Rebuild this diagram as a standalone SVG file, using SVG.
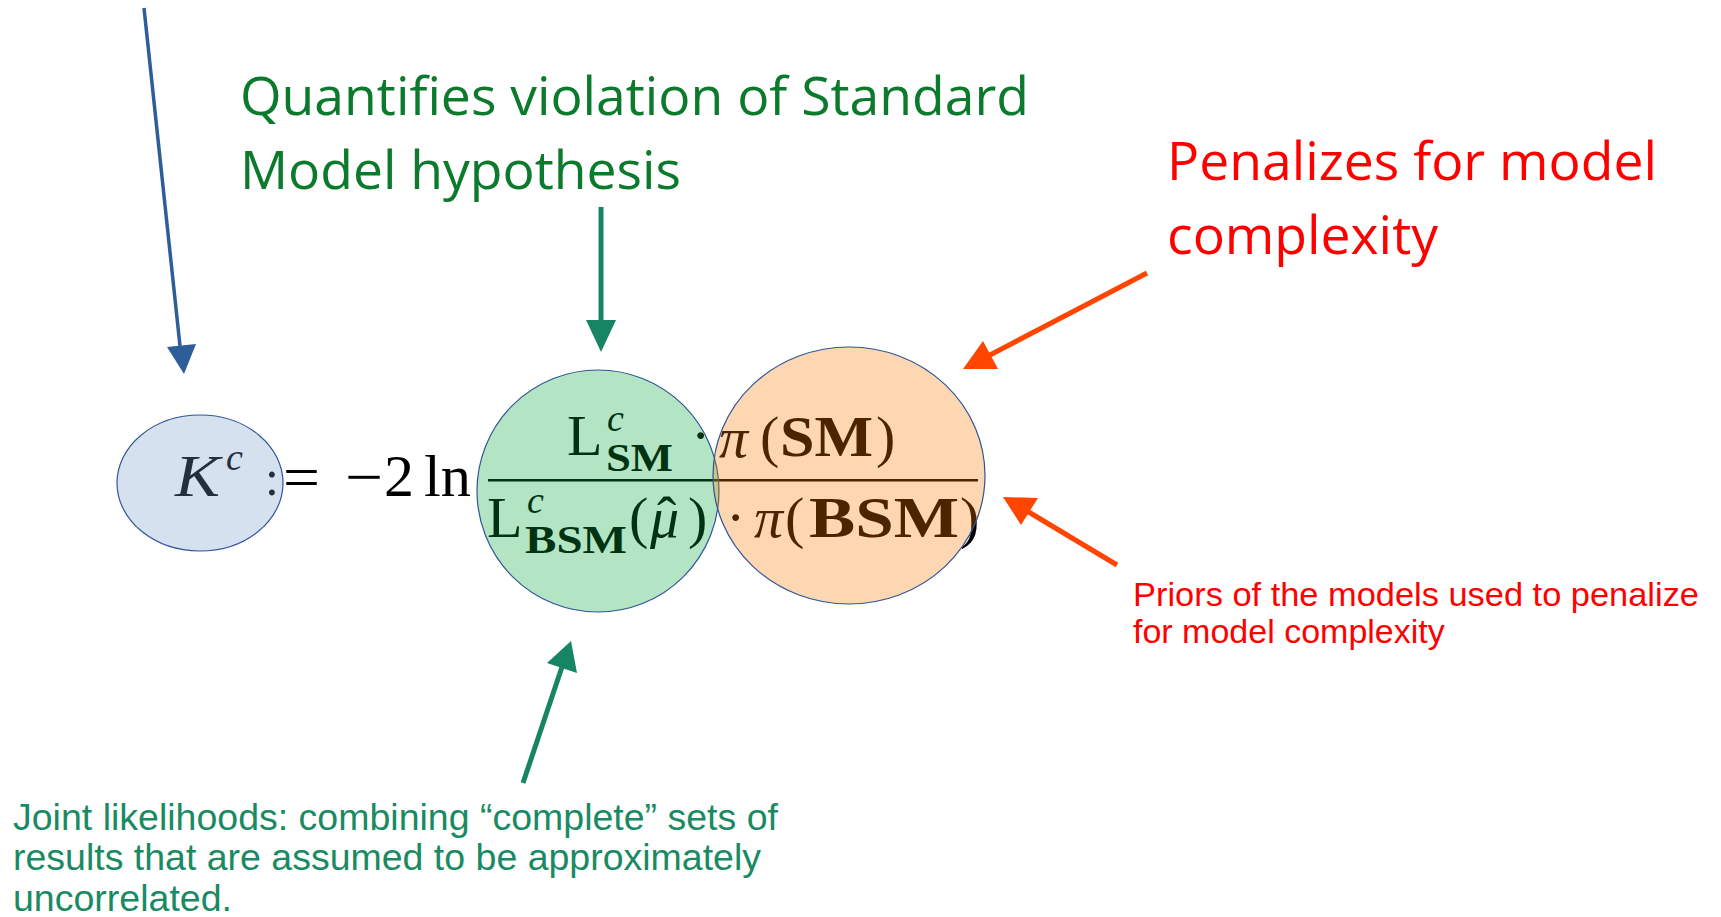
<svg xmlns="http://www.w3.org/2000/svg" width="1721" height="917" viewBox="0 0 1721 917">
<style>
.m{font-family:"Liberation Serif","DejaVu Serif",serif;fill:#000}
.it{font-style:italic}
.bd{font-weight:bold}
.big{font-size:58px}
.sub{font-size:41px}
.sup{font-size:38px}
.ttl{font-family:"Open Sans","Noto Sans",sans-serif;font-size:53px}
.note{font-family:"Liberation Sans",Arial,sans-serif}
.ov{fill-opacity:0.3;stroke:#2f5597;stroke-width:1.2}
.teal{stroke:#178564;fill:none;stroke-width:5}
.red{stroke:#ff4500;fill:none;stroke-width:5}
</style>
<rect width="1721" height="917" fill="#fff"/>

<g id="formula">
  <text class="m it" x="175" y="496" font-size="60" textLength="45" lengthAdjust="spacingAndGlyphs">K</text>
  <text class="m it sup" x="226" y="470">c</text>
  <text class="m" x="265" y="495" font-size="50">:</text>
  <text class="m" x="283" y="497" font-size="60" textLength="37" lengthAdjust="spacingAndGlyphs">=</text>
  <text class="m" x="345" y="497" font-size="60" textLength="38" lengthAdjust="spacingAndGlyphs">−</text>
  <text class="m" x="384" y="496" font-size="60">2</text>
  <text class="m" x="424" y="496" font-size="60" textLength="47" lengthAdjust="spacingAndGlyphs">ln</text>
  <rect x="488" y="479" width="490" height="2.5" fill="#000"/>
  <!-- numerator -->
  <text class="m big" x="567" y="455">L</text>
  <text class="m it sup" x="607" y="431">c</text>
  <text class="m bd sub" x="606" y="471" textLength="67" lengthAdjust="spacingAndGlyphs">SM</text>
  <text class="m big" x="691" y="455">·</text>
  <text class="m it big" x="719" y="457">π</text>
  <text class="m big" x="760" y="456">(</text>
  <text class="m bd big" x="780" y="456" textLength="93" lengthAdjust="spacingAndGlyphs">SM</text>
  <text class="m big" x="876" y="456">)</text>
  <!-- denominator -->
  <text class="m big" x="487" y="537">L</text>
  <text class="m it sup" x="527" y="513">c</text>
  <text class="m bd sub" x="525" y="553" textLength="102" lengthAdjust="spacingAndGlyphs">BSM</text>
  <text class="m big" x="629" y="537">(</text>
  <text class="m it big" x="650" y="537">μ</text>
  <text class="m big" x="657" y="536">ˆ</text>
  <text class="m big" x="688" y="537">)</text>
  <text class="m big" x="726" y="537">·</text>
  <text class="m it big" x="754" y="537">π</text>
  <text class="m big" x="785" y="537">(</text>
  <text class="m bd big" x="809" y="537" textLength="150" lengthAdjust="spacingAndGlyphs">BSM</text>
  <text class="m big" x="960" y="537">)</text>
</g>

<g id="node-kc">
  <ellipse class="ov" cx="200" cy="483" rx="83" ry="68" fill="#769bca"/>
</g>
<g id="node-likelihood">
  <ellipse class="ov" cx="598" cy="491" rx="121" ry="121" fill="#02a83a"/>
</g>
<g id="node-priors">
  <ellipse class="ov" cx="849" cy="475.5" rx="136" ry="128.5" fill="#f87a00"/>
</g>

<g id="label-quantifies" class="ttl" fill="#0b7a2c">
  <text x="240" y="115" textLength="789" lengthAdjust="spacingAndGlyphs">Quantifies violation of Standard</text>
  <text x="240" y="189" textLength="441" lengthAdjust="spacingAndGlyphs">Model hypothesis</text>
</g>
<g id="label-penalizes" class="ttl" fill="#ff0000">
  <text x="1167" y="180" textLength="490" lengthAdjust="spacingAndGlyphs">Penalizes for model</text>
  <text x="1167" y="254" textLength="271" lengthAdjust="spacingAndGlyphs">complexity</text>
</g>
<g id="label-priors" class="note" fill="#ff0000" font-size="34">
  <text x="1133" y="606" textLength="566" lengthAdjust="spacingAndGlyphs">Priors of the models used to penalize</text>
  <text x="1133" y="643">for model complexity</text>
</g>
<g id="label-joint" class="note" fill="#1a8a63" font-size="37.5">
  <text x="13" y="830" textLength="765" lengthAdjust="spacingAndGlyphs">Joint likelihoods: combining “complete” sets of</text>
  <text x="13" y="870" textLength="748" lengthAdjust="spacingAndGlyphs">results that are assumed to be approximately</text>
  <text x="13" y="911" textLength="219" lengthAdjust="spacingAndGlyphs">uncorrelated.</text>
</g>

<g id="connectors">
  <line x1="144" y1="8" x2="180" y2="346" stroke="#2e5e9a" stroke-width="3.5"/>
  <polygon points="167,347 196,344 184,374" fill="#2e5e9a"/>
  <line class="teal" x1="601" y1="207" x2="601" y2="322"/>
  <polygon points="586,320 616,320 601,352" fill="#178564"/>
  <line class="teal" x1="523" y1="783" x2="563" y2="664"/>
  <polygon points="547,663 577,673 571,641" fill="#178564"/>
  <line class="red" x1="1147" y1="273" x2="988" y2="356"/>
  <polygon points="983,341 998,369 963,369" fill="#ff4500"/>
  <line class="red" x1="1117" y1="565" x2="1027" y2="511"/>
  <polygon points="1038,498 1021,525 1003,497" fill="#ff4500"/>
</g>
</svg>
